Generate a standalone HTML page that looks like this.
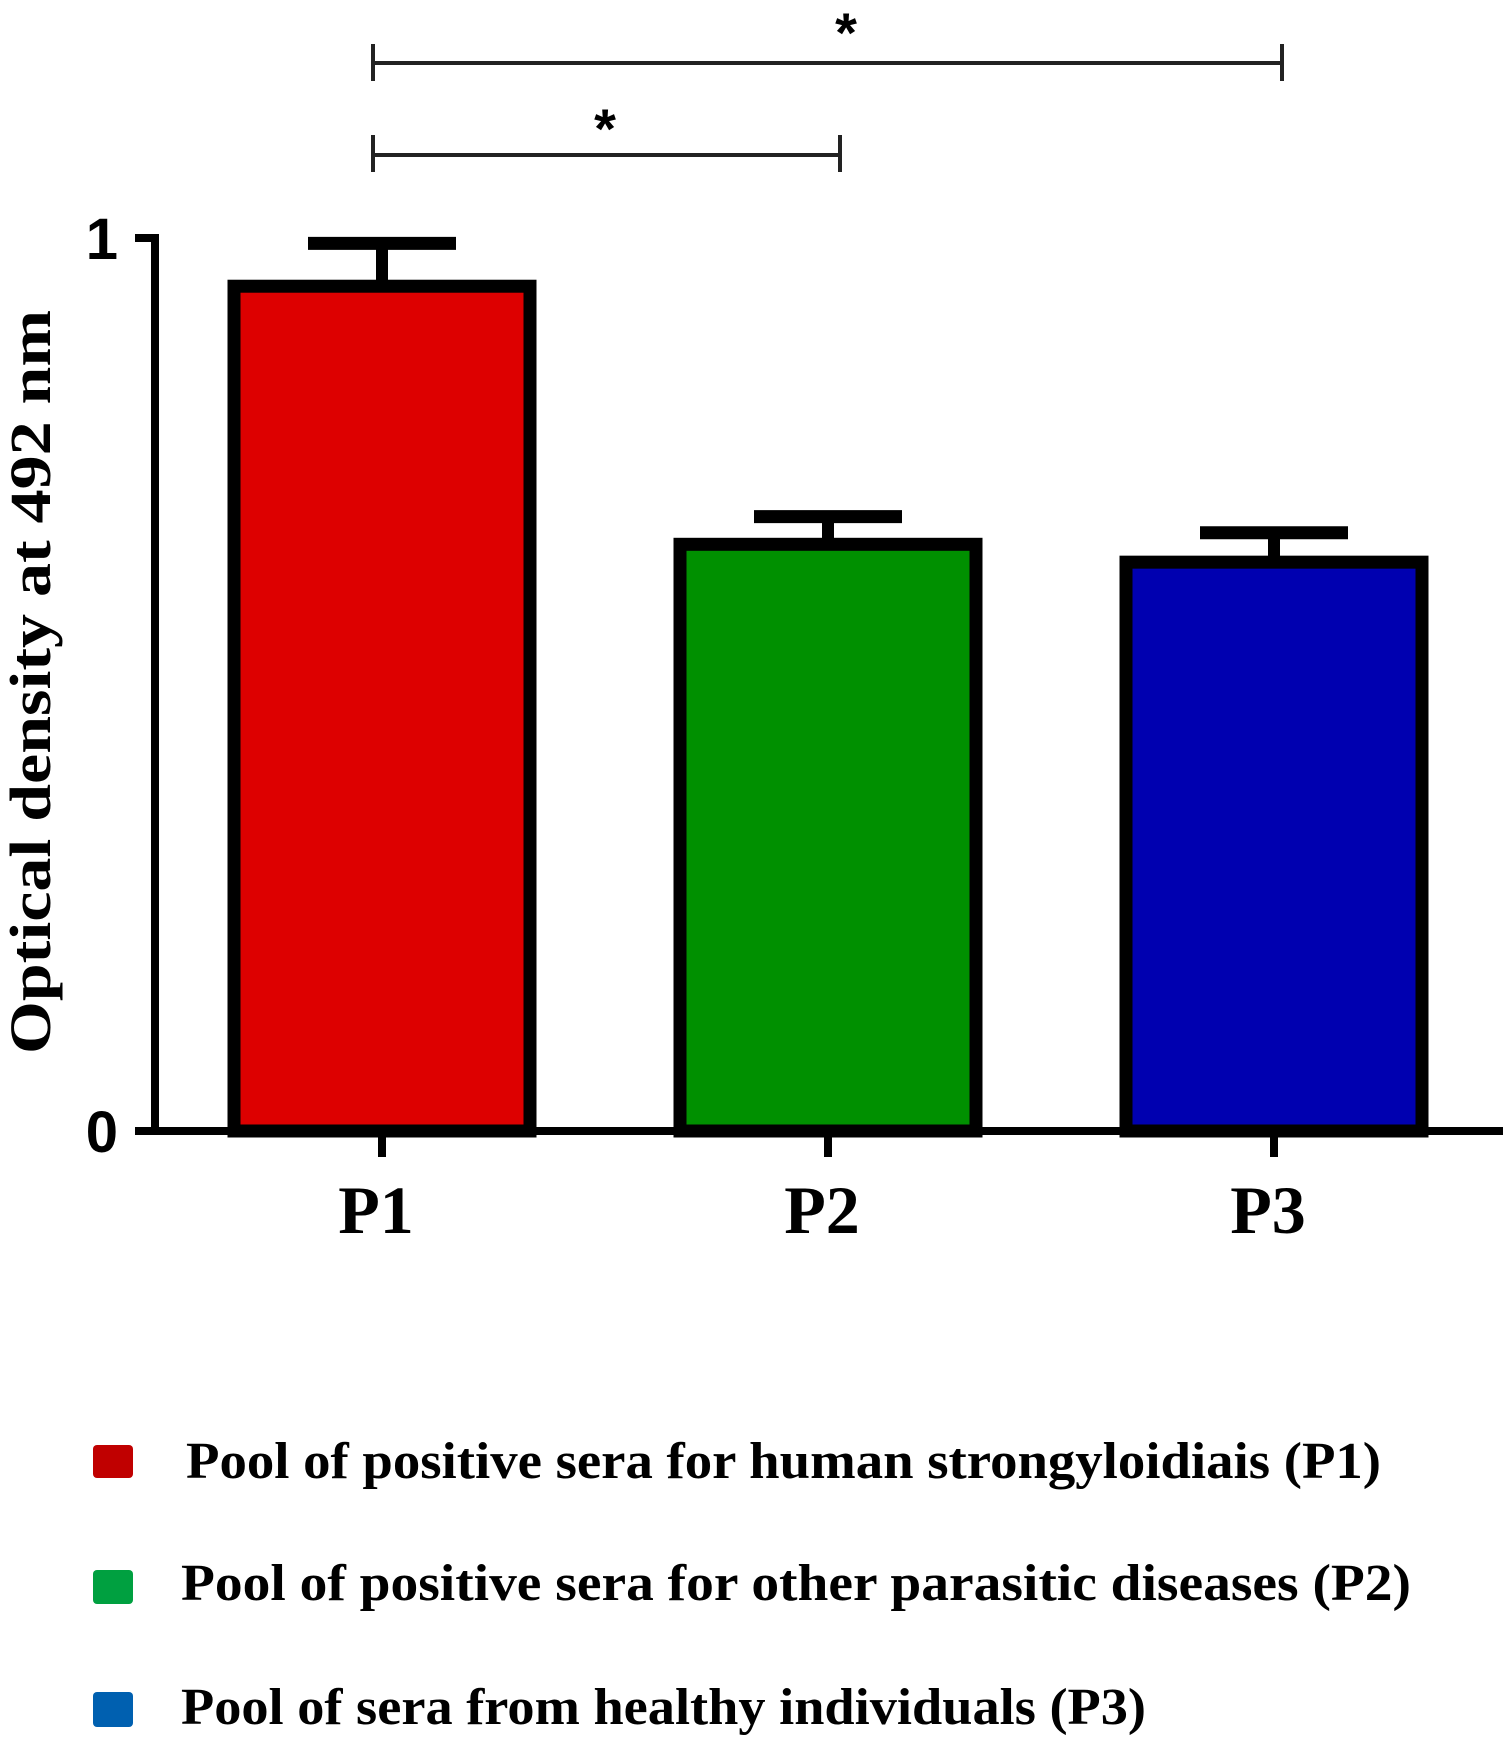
<!DOCTYPE html>
<html><head><meta charset="utf-8"><style>
html,body{margin:0;padding:0;background:#fff;}
svg{display:block;}
</style></head><body>
<svg id="chart" width="1508" height="1737" viewBox="0 0 1508 1737" xmlns="http://www.w3.org/2000/svg">
<g id="plot"></g>
<text transform="translate(50,682) rotate(-90)" text-anchor="middle" font-family="Liberation Serif, serif" font-weight="bold" font-size="58" textLength="744" lengthAdjust="spacingAndGlyphs">Optical density at 492 nm</text>
<g stroke="#222" stroke-width="4" fill="none">
<line x1="373" y1="63" x2="1282" y2="63"/><line x1="373" y1="44" x2="373" y2="81"/><line x1="1282" y1="44" x2="1282" y2="81"/></g>
<text x="846" y="52" text-anchor="middle" font-family="Liberation Sans, sans-serif" font-weight="bold" font-size="56">*</text>
<g stroke="#222" stroke-width="4" fill="none">
<line x1="373" y1="155" x2="840" y2="155"/><line x1="373" y1="135" x2="373" y2="172"/><line x1="840" y1="135" x2="840" y2="172"/></g>
<text x="605" y="148" text-anchor="middle" font-family="Liberation Sans, sans-serif" font-weight="bold" font-size="56">*</text>
<g font-family="Liberation Serif, serif" font-weight="bold" font-size="52">
<rect x="93" y="1445" width="40" height="33" rx="4" fill="#c00000"/>
<text x="186" y="1478" textLength="1195" lengthAdjust="spacingAndGlyphs">Pool of positive sera for human strongyloidiais (P1)</text>
<rect x="93" y="1570" width="40" height="34" rx="4" fill="#00a040"/>
<text x="181" y="1600" textLength="1230" lengthAdjust="spacingAndGlyphs">Pool of positive sera for other parasitic diseases (P2)</text>
<rect x="93" y="1692" width="40" height="35" rx="4" fill="#0060b0"/>
<text x="181" y="1724" textLength="965" lengthAdjust="spacingAndGlyphs">Pool of sera from healthy individuals (P3)</text>
</g>
</svg>
<script>
const categories = ["P1", "P2", "P3"];
const means = [0.946, 0.657, 0.637];
const errors = [0.048, 0.031, 0.033];
const barColors = ["#dd0000", "#009000", "#0000b0"];
const yTicks = [0, 1];

const NS = "http://www.w3.org/2000/svg";
const g = document.getElementById("plot");
const y0 = 1131, y1 = 238;
function yScale(v){ return y0 - v * (y0 - y1); }
const centers0 = 382, step = 446, barW = 296;
function xScale(i){ return centers0 + i * step; }
function mk(tag, attrs){ const e = document.createElementNS(NS, tag); for (const k in attrs) e.setAttribute(k, attrs[k]); g.appendChild(e); return e; }

categories.forEach((c, i) => {
  const cx = xScale(i);
  const top = yScale(means[i]);
  const eTop = yScale(means[i] + errors[i]);
  const err = mk("line", {x1: cx, y1: top, x2: cx, y2: eTop, stroke: "#000", "stroke-width": 12});
  
  
  const cap = mk("line", {x1: cx - 74, y1: eTop, x2: cx + 74, y2: eTop, stroke: "#000", "stroke-width": 13, "stroke-linecap": "butt"});
  
  
  const bar = mk("rect", {x: cx - barW/2, y: top, width: barW, height: y0 - top, fill: barColors[i], stroke: "#000", "stroke-width": 13});
  
  
  const tk = mk("line", {x1: cx, y1: y0, x2: cx, y2: 1157, stroke: "#000", "stroke-width": 8});
  
  
  const lb = mk("text", {x: cx - 6, y: 1233, "text-anchor": "middle", "font-family": "Liberation Serif, serif", "font-weight": "bold", "font-size": 68});
  lb.textContent = c;
  
  
});

const yAxis = mk("line", {x1: 155, y1: y1 - 4, x2: 155, y2: y0, stroke: "#000", "stroke-width": 8});


const xAxis = mk("line", {x1: 135, y1: y0, x2: 1503, y2: y0, stroke: "#000", "stroke-width": 8});


yTicks.forEach(t => {
  const yy = yScale(t);
  const tl = mk("line", {x1: 135, y1: yy, x2: 155, y2: yy, stroke: "#000", "stroke-width": 8});
  
  
  const lb = mk("text", {x: 118, y: yy + 21, "text-anchor": "end", "font-family": "Liberation Sans, sans-serif", "font-weight": "bold", "font-size": 58});
  lb.textContent = String(t);
  
  
});
</script>
</body></html>
